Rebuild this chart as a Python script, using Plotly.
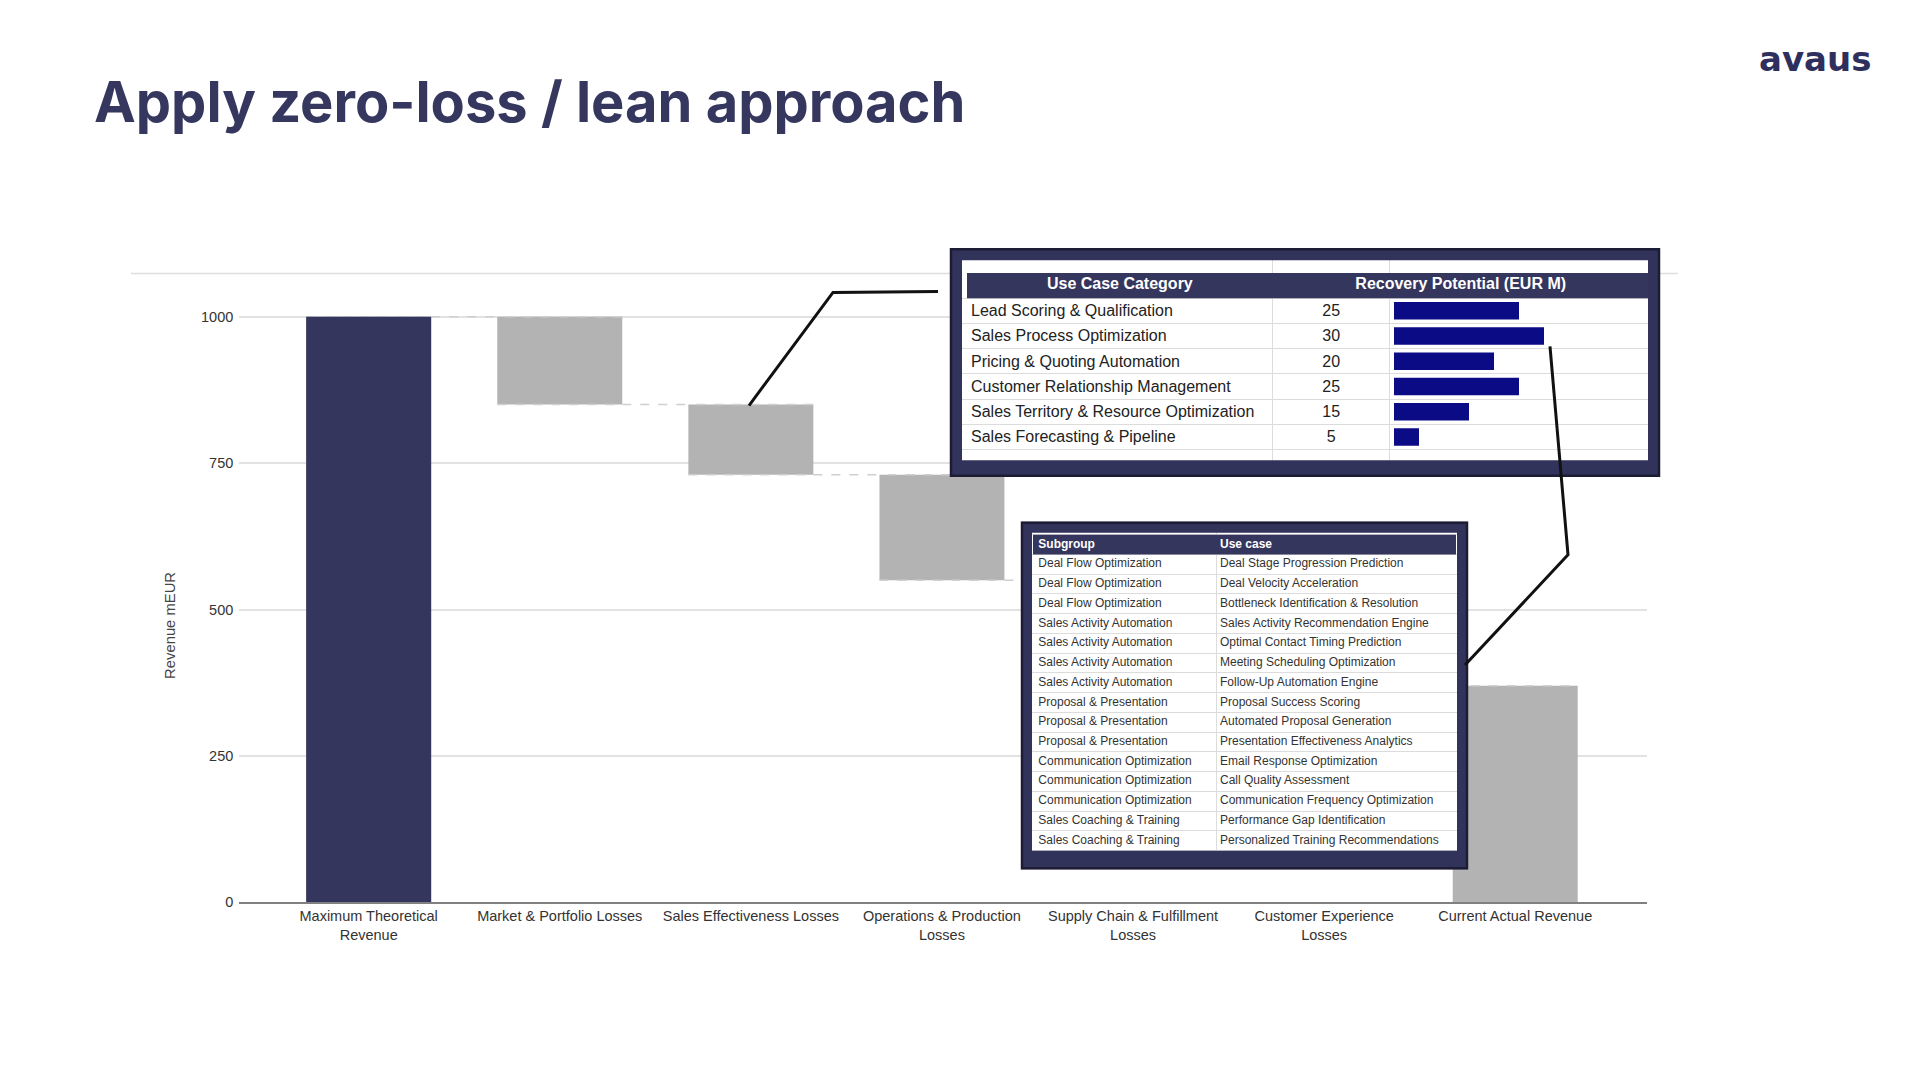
import plotly.graph_objects as go

# ------------------------------------------------------------------ data
categories = [
    "Maximum Theoretical<br>Revenue",
    "Market & Portfolio Losses",
    "Sales Effectiveness Losses",
    "Operations & Production<br>Losses",
    "Supply Chain & Fulfillment<br>Losses",
    "Customer Experience<br>Losses",
    "Current Actual Revenue",
]
revenue_values = [1000, -150, -120, -180, -100, -80, 370]
revenue_measures = ["absolute", "relative", "relative", "relative", "relative", "relative", "total"]
y_tick_values = [0, 250, 500, 750, 1000]

top_headers = ["Use Case Category", "Recovery Potential (EUR M)"]
use_case_categories = [
    "Lead Scoring & Qualification",
    "Sales Process Optimization",
    "Pricing & Quoting Automation",
    "Customer Relationship Management",
    "Sales Territory & Resource Optimization",
    "Sales Forecasting & Pipeline",
]
recovery_potential = [25, 30, 20, 25, 15, 5]

bottom_headers = ["Subgroup", "Use case"]
subgroups = [
    "Deal Flow Optimization", "Deal Flow Optimization", "Deal Flow Optimization",
    "Sales Activity Automation", "Sales Activity Automation", "Sales Activity Automation",
    "Sales Activity Automation",
    "Proposal & Presentation", "Proposal & Presentation", "Proposal & Presentation",
    "Communication Optimization", "Communication Optimization", "Communication Optimization",
    "Sales Coaching & Training", "Sales Coaching & Training",
]
use_cases = [
    "Deal Stage Progression Prediction", "Deal Velocity Acceleration",
    "Bottleneck Identification & Resolution", "Sales Activity Recommendation Engine",
    "Optimal Contact Timing Prediction", "Meeting Scheduling Optimization",
    "Follow-Up Automation Engine", "Proposal Success Scoring",
    "Automated Proposal Generation", "Presentation Effectiveness Analytics",
    "Email Response Optimization", "Call Quality Assessment",
    "Communication Frequency Optimization", "Performance Gap Identification",
    "Personalized Training Recommendations",
]

# ------------------------------------------------------------------ style / layout
W, H = 1920, 1066
YS = 1.009                 # vertical placement factor
NAVY = "#35365e"
FRAME = "#32335b"
FRAME_EDGE = "#1c1c35"
GRAY_BAR = "#b3b3b3"
INLINE_BAR = "#0b0b86"
GRID = "#e2e2e2"
CELL_LINE = "#dcdcdc"
FONT = "Liberation Sans"


def px(x):
    return x / W


def py(y):
    return 1 - (y * YS) / H


fig = go.Figure()

# ---- waterfall
fig.add_trace(go.Waterfall(
    x=categories, y=revenue_values, measure=revenue_measures,
    width=0.654,
    decreasing=dict(marker=dict(color=GRAY_BAR)),
    increasing=dict(marker=dict(color=GRAY_BAR)),
    totals=dict(marker=dict(color=GRAY_BAR)),
    connector=dict(mode="spanning", line=dict(color="#cfcfcf", width=1.5, dash="dash")),
    xaxis="x", yaxis="y", hoverinfo="skip", showlegend=False,
))
fig.add_trace(go.Waterfall(
    x=categories[:1], y=revenue_values[:1], measure=revenue_measures[:1],
    width=0.654,
    totals=dict(marker=dict(color=NAVY)),
    connector=dict(visible=False),
    xaxis="x", yaxis="y", hoverinfo="skip", showlegend=False,
))

# ---- top table (x3/y3 in pixel-like units, rows in row units)
TOP_ROW_H = 25.2
TOP_HEADER_TOP = 272.5
TOP_DOM = (960, 1650, 258, 464)  # x0, x1, ytop, ybottom (px)
top_col_edges = [7, 312.7, 429.7, 688.7]
n_top = len(use_case_categories)
top_rows = [i + 1.5 for i in range(n_top)]

fig.add_trace(go.Scatter(
    x=[top_col_edges[0] + 4] * n_top, y=[r + 0.06 for r in top_rows], text=use_case_categories,
    mode="text", textposition="middle right",
    textfont=dict(family=FONT, size=16, color="#222222"),
    xaxis="x3", yaxis="y3", hoverinfo="skip", showlegend=False,
))
fig.add_trace(go.Scatter(
    x=[(top_col_edges[1] + top_col_edges[2]) / 2] * n_top, y=[r + 0.06 for r in top_rows],
    text=[str(v) for v in recovery_potential],
    mode="text", textposition="middle center",
    textfont=dict(family=FONT, size=16, color="#222222"),
    xaxis="x3", yaxis="y3", hoverinfo="skip", showlegend=False,
))
fig.add_trace(go.Scatter(
    x=[(top_col_edges[0] + top_col_edges[1]) / 2, (top_col_edges[1] + top_col_edges[3]) / 2],
    y=[0.5, 0.5], text=["<b>%s</b>" % h for h in top_headers],
    mode="text", textposition="middle center",
    textfont=dict(family=FONT, size=16, color="white"),
    xaxis="x3", yaxis="y3", hoverinfo="skip", showlegend=False,
))
fig.add_trace(go.Bar(
    x=recovery_potential, y=top_rows, orientation="h", width=0.69,
    marker=dict(color=INLINE_BAR, line=dict(width=0)),
    xaxis="x2", yaxis="y3", hoverinfo="skip", showlegend=False,
))

# ---- bottom table
BOT_ROW_H = 19.71
BOT_HEADER_TOP = 534
BOT_DOM = (1031, 1458, 530, 851)
bot_col_edges = [2, 185.7, 425]
n_bot = len(subgroups)
bot_rows = [i + 1.5 for i in range(n_bot)]

fig.add_trace(go.Scatter(
    x=[bot_col_edges[0] + 5.3] * n_bot, y=bot_rows, text=subgroups,
    mode="text", textposition="middle right",
    textfont=dict(family=FONT, size=12, color="#333333"),
    xaxis="x4", yaxis="y4", hoverinfo="skip", showlegend=False,
))
fig.add_trace(go.Scatter(
    x=[bot_col_edges[1] + 3.3] * n_bot, y=bot_rows, text=use_cases,
    mode="text", textposition="middle right",
    textfont=dict(family=FONT, size=12, color="#333333"),
    xaxis="x4", yaxis="y4", hoverinfo="skip", showlegend=False,
))
fig.add_trace(go.Scatter(
    x=[bot_col_edges[0] + 5.3, bot_col_edges[1] + 3.3], y=[0.5, 0.5],
    text=["<b>%s</b>" % h for h in bottom_headers],
    mode="text", textposition="middle right",
    textfont=dict(family=FONT, size=12, color="white"),
    xaxis="x4", yaxis="y4", hoverinfo="skip", showlegend=False,
))

hidden = dict(showticklabels=False, showline=False, zeroline=False, ticks="")

fig.update_layout(
    width=W, height=H,
    margin=dict(l=0, r=0, t=0, b=0),
    paper_bgcolor="white", plot_bgcolor="white",
    font=dict(family=FONT, color="#333333"),
    hovermode=False,
    waterfallmode="overlay",
    showlegend=False,
    xaxis=dict(
        domain=[px(239.3), px(1646.5)], range=[-0.677, 6.687], type="category",
        showgrid=False, showline=True, linecolor="#808080", linewidth=1.5,
        ticks="", tickfont=dict(size=14.5, color="#333333"), ticklabelstandoff=0,
        anchor="y",
    ),
    yaxis=dict(
        domain=[py(901), py(281.2)], range=[0, 1060],
        tickvals=y_tick_values, showgrid=True, gridcolor=GRID, gridwidth=1.5,
        zeroline=False, showline=False, ticks="",
        tickfont=dict(size=14.5, color="#333333"), ticklabelstandoff=5,
        anchor="x",
    ),
    xaxis3=dict(
        domain=[px(TOP_DOM[0]), px(TOP_DOM[1])], range=[0, TOP_DOM[1] - TOP_DOM[0]],
        tickvals=top_col_edges[1:3], showgrid=True, gridcolor=CELL_LINE, gridwidth=1,
        anchor="y3", **hidden,
    ),
    yaxis3=dict(
        domain=[py(TOP_DOM[3]), py(TOP_DOM[2])],
        range=[(TOP_DOM[3] - TOP_HEADER_TOP) / TOP_ROW_H, (TOP_DOM[2] - TOP_HEADER_TOP) / TOP_ROW_H],
        tickvals=list(range(1, n_top + 2)), showgrid=True, gridcolor=CELL_LINE, gridwidth=1,
        anchor="x3", **hidden,
    ),
    xaxis2=dict(
        overlaying="x3", anchor="y3",
        range=[-(1394 - TOP_DOM[0]) / 5.0, (TOP_DOM[1] - 1394) / 5.0],
        showgrid=False, **hidden,
    ),
    xaxis4=dict(
        domain=[px(BOT_DOM[0]), px(BOT_DOM[1])], range=[0, BOT_DOM[1] - BOT_DOM[0]],
        tickvals=[bot_col_edges[1]], showgrid=True, gridcolor=CELL_LINE, gridwidth=1,
        anchor="y4", **hidden,
    ),
    yaxis4=dict(
        domain=[py(BOT_DOM[3]), py(BOT_DOM[2])],
        range=[(BOT_DOM[3] - BOT_HEADER_TOP) / BOT_ROW_H, (BOT_DOM[2] - BOT_HEADER_TOP) / BOT_ROW_H],
        tickvals=list(range(0, n_bot + 2)), showgrid=True, gridcolor=CELL_LINE, gridwidth=1,
        anchor="x4", **hidden,
    ),
)

shapes = []
# slide rule line behind the chart
shapes.append(dict(type="line", xref="paper", yref="paper", x0=px(131), x1=px(1678), y0=py(273), y1=py(273),
                   line=dict(color="#dedede", width=1.5), layer="below"))
# table header fills
shapes.append(dict(type="rect", xref="x3", yref="y3", x0=top_col_edges[0], x1=top_col_edges[3], y0=0, y1=1,
                   fillcolor=NAVY, line=dict(width=0), layer="between"))
shapes.append(dict(type="rect", xref="x4", yref="y4", x0=bot_col_edges[0], x1=bot_col_edges[2], y0=0, y1=1,
                   fillcolor=NAVY, line=dict(width=0), layer="between"))


def rect_px(x0, y0, x1, y1, **kw):
    d = dict(type="rect", xref="paper", yref="paper", x0=px(x0), x1=px(x1), y0=py(y1), y1=py(y0), layer="above")
    d.update(kw)
    return d


# top frame
shapes.append(rect_px(956, 254, 1654, 469, line=dict(color=FRAME, width=12)))
shapes.append(rect_px(951, 459.5, 1659, 475, fillcolor=FRAME, line=dict(width=0)))
shapes.append(rect_px(951, 249, 1659, 475, line=dict(color=FRAME_EDGE, width=2.5)))
# bottom frame
shapes.append(rect_px(1026.5, 526.5, 1462.5, 862.5, line=dict(color=FRAME, width=11)))
shapes.append(rect_px(1021, 849.5, 1468, 867, fillcolor=FRAME, line=dict(width=0)))
shapes.append(rect_px(1022, 522, 1467, 867, line=dict(color=FRAME_EDGE, width=2.5)))


def path_px(points, **kw):
    p = "M " + " L ".join("%.5f,%.5f" % (px(x), py(y)) for x, y in points)
    d = dict(type="path", xref="paper", yref="paper", path=p, layer="above")
    d.update(kw)
    return d


# callout lines
shapes.append(path_px([(749, 405), (833, 292), (938, 291)], line=dict(color="#111111", width=3)))
shapes.append(path_px([(1550, 346), (1568, 554), (1465, 664)], line=dict(color="#111111", width=3)))

fig.update_layout(shapes=shapes)

annotations = [
    dict(text="<b>Apply zero-loss / lean approach</b>", xref="paper", yref="paper",
         x=px(92), y=py(66), xanchor="left", yanchor="top", showarrow=False,
         font=dict(family="Inter", size=56, color="#36375f")),
    dict(text="<b>avaus</b>", xref="paper", yref="paper",
         x=px(1815), y=py(59), xanchor="center", yanchor="middle", showarrow=False,
         font=dict(family="DejaVu Sans", size=34, color="#2e2f5c")),
    dict(text="Revenue mEUR", xref="paper", yref="paper", x=px(170), y=py(625),
         xanchor="center", yanchor="middle", textangle=-90, showarrow=False,
         font=dict(family=FONT, size=14.8, color="#444444")),
]
fig.update_layout(annotations=annotations)

fig.write_html("out.html")
